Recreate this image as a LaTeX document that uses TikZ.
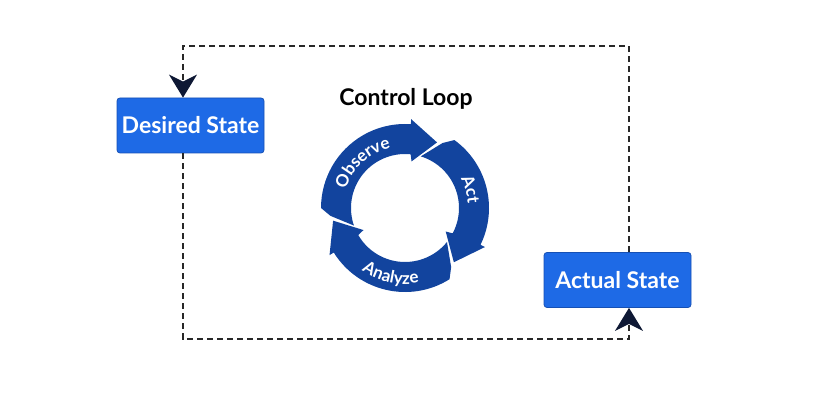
\documentclass[tikz,border=0pt]{standalone}
\usepackage{fontspec}
\setmainfont{Lato}
\usetikzlibrary{arrows.meta,decorations.text,calc}
\definecolor{boxblue}{RGB}{30,106,230}
\definecolor{boxedge}{RGB}{22,80,180}
\definecolor{ringblue}{RGB}{18,68,158}
\definecolor{navy}{RGB}{14,24,52}
\definecolor{lineg}{RGB}{40,40,40}
\newcommand\ringlbl{\color{white}\bfseries\fontsize{17}{17}\selectfont}
\newcommand\cyclearrow[2]{%
  \fill[ringblue] ({#1-10}:84) arc[start angle={#1-10}, end angle={#2+22}, radius=84]
    -- ({#2+22}:89) -- ({#2}:73) -- ({#2+18}:47) -- ({#2+20}:54)
    arc[start angle={#2+20}, end angle={#1+9}, radius=54] -- ({#1-4}:75) -- cycle;}
\tikzset{
  statebox/.style={draw=boxedge, fill=boxblue, rounded corners=3pt,
    minimum width=147pt, minimum height=55pt, inner sep=0pt, text=white,
    font=\bfseries\fontsize{23}{23}\selectfont, line width=0.8pt},
  loopline/.style={draw=lineg, line width=1.2pt, dash pattern=on 6pt off 4pt,
    -{Stealth[length=23pt,width=28pt,inset=7pt,color=navy]}},
  titlefont/.style={font=\bfseries\fontsize{23}{23}\selectfont}
}
\begin{document}
\begin{tikzpicture}[x=1pt,y=1pt]
\useasboundingbox (0,0) rectangle (825,407);
\node[statebox] (desired) at (190.5,281.5) {Desired State};
\node[statebox] (actual) at (617.5,127) {Actual State};
\node[titlefont] (title) at (406,308) {Control Loop};
\coordinate (c1) at (183,68);
\coordinate (c2) at (629,68);
\coordinate (c3) at (629,361);
\coordinate (c4) at (183,361);
\draw[loopline] (c1 |- desired.south) -- (c1) -- (c2) -- (c2 |- actual.south);
\draw[loopline] (c3 |- actual.north) -- (c3) -- (c4) -- (c4 |- desired.north);
\begin{scope}[shift={(405,199)}]
  \cyclearrow{190}{64}
  \cyclearrow{64}{-48}
  \cyclearrow{-48}{-170}
  \path[decorate, decoration={text along path, text={|\ringlbl|Observe}, text align=center}]
    (178:62) arc[start angle=178, end angle=88, radius=62];
  \path[decorate, decoration={text along path, text={|\ringlbl|Act}, text align=center}]
    (52:63) arc[start angle=52, end angle=-20, radius=63];
  \path[decorate, decoration={text along path, text={|\ringlbl|Analyze}, text align=center}]
    (218:76) arc[start angle=218, end angle=298, radius=76];
\end{scope}
\end{tikzpicture}
\end{document}
